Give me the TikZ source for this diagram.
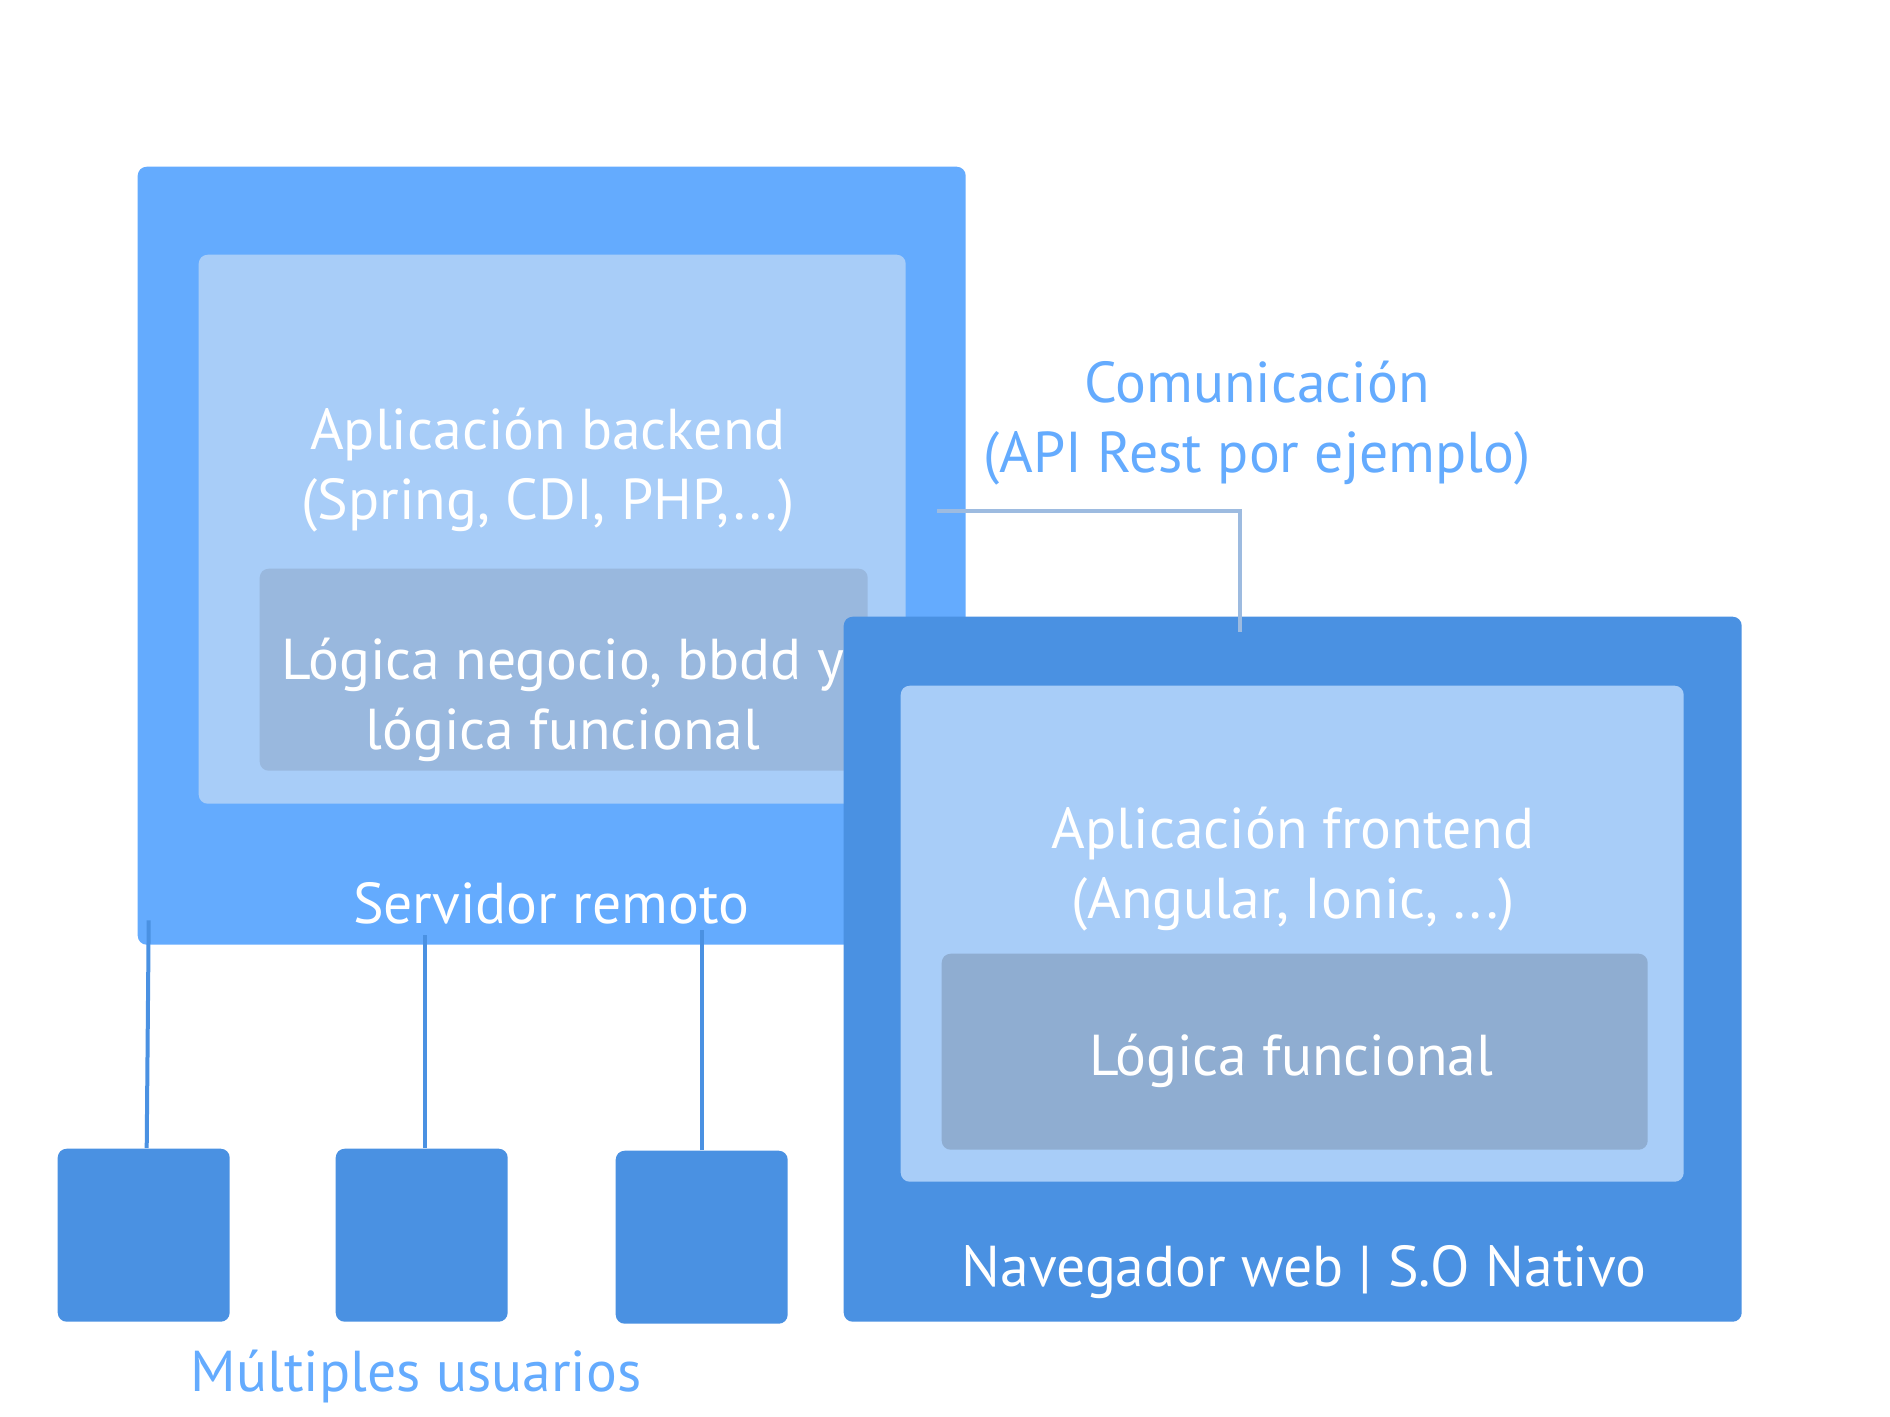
\documentclass[tikz,border=0pt]{standalone}
\usepackage{fontspec}
\setmainfont{PT Sans}
\usetikzlibrary{positioning,calc}
\definecolor{server}{HTML}{64ABFE}
\definecolor{backend}{HTML}{A8CDF8}
\definecolor{logicback}{HTML}{99B8DE}
\definecolor{client}{HTML}{4A91E2}
\definecolor{logicfront}{HTML}{8FADD1}
\definecolor{commline}{HTML}{9DBBE0}
\definecolor{caption}{HTML}{64ABFE}
\tikzset{
  every node/.style={font=\fontsize{16.4}{19.9}\selectfont,text=white},
  box/.style={rounded corners=0.9mm,inner sep=0pt,anchor=north west},
  serverbox/.style={box,fill=server},
  backendbox/.style={box,fill=backend},
  logicbox/.style={box,fill=logicback},
  clientbox/.style={box,fill=client},
  frontlogicbox/.style={box,fill=logicfront},
  userbox/.style={box,fill=client,minimum width=17.2mm,minimum height=17.3mm},
  txt/.style={align=center,inner sep=0pt,yshift=-0.6mm},
  outtxt/.style={txt,text=caption},
  usrline/.style={draw=client,line width=0.4mm},
  apiline/.style={draw=commline,line width=0.4mm},
}
\begin{document}
\begin{tikzpicture}[x=1mm,y=-1mm]
\useasboundingbox (0,0) rectangle (189,141.7);
\node[serverbox,minimum width=82.8mm,minimum height=77.8mm] (srv) at (13.7,16.6) {};
\node[backendbox,minimum width=70.7mm,minimum height=54.9mm] (back) at (19.8,25.4) {};
\node[logicbox,minimum width=60.8mm,minimum height=20.2mm] (blogic) at (25.9,56.8) {};
\node[txt] (backtxt) at (54.8,46.4) {Aplicación backend\\(Spring, CDI, PHP,...)};
\node[txt] (blogictxt) at (56.3,69.4) {Lógica negocio, bbdd y\\lógica funcional};
\node[txt] (srvtxt) at (55.1,89.7) {Servidor remoto};
\coordinate (apiout) at (93.7,51.1);
\node[clientbox,minimum width=89.8mm,minimum height=70.5mm] (front) at (84.3,61.6) {};
\node[backendbox,minimum width=78.3mm,minimum height=49.6mm] (fapp) at (90.0,68.5) {};
\node[frontlogicbox,minimum width=70.6mm,minimum height=19.6mm] (flogic) at (94.1,95.3) {};
\node[txt] (fapptxt) at (129.3,86.3) {Aplicación frontend\\(Angular, Ionic, ...)};
\node[txt] (flogictxt) at (129.1,105.5) {Lógica funcional};
\node[txt] (fronttxt) at (130.4,126.6) {Navegador web | S.O Nativo};
\node[outtxt] (apitxt) at (125.7,41.7) {Comunicación\\(API Rest por ejemplo)};
\draw[apiline] (apiout) -| ([shift={(39.7mm,-1.6mm)}]front.north west);
\node[userbox] (u1) at (5.7,114.8) {};
\node[userbox] (u2) at (33.5,114.8) {};
\node[userbox] (u3) at (61.5,115.0) {};
\draw[usrline] ([xshift=0.3mm]u1.north) -- ([shift={(0.5mm,2.5mm)}]u1.north |- srv.south);
\draw[usrline] ([xshift=0.3mm]u2.north) -- ([shift={(0.3mm,1mm)}]u2.north |- srv.south);
\draw[usrline] (u3.north) -- ([yshift=1.5mm]u3.north |- srv.south);
\node[outtxt] (usrtxt) at (41.6,137) {Múltiples usuarios};
\end{tikzpicture}
\end{document}
